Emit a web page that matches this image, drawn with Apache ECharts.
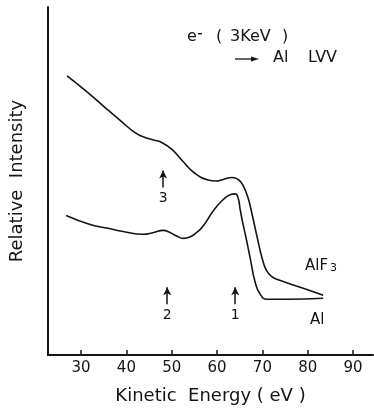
<!DOCTYPE html>
<html>
<head>
<meta charset="utf-8">
<script src="https://cdn.jsdelivr.net/npm/echarts@6/dist/echarts.min.js"></script>
<style>
  html, body { margin: 0; padding: 0; background: #ffffff; }
  #chart { width: 374px; height: 410px; }
</style>
</head>
<body>
<div id="chart"></div>
<script>
// Al LVV Auger spectra excited by 3 keV electrons (relative intensity vs kinetic energy)
const energyAlF3 = [26.9, 31.5, 35.3, 39.0, 41.9, 44.1, 46.0, 47.9, 50.1, 52.5, 55.0, 58.0, 59.8, 61.5, 63.3, 64.7, 65.7, 66.8, 67.8, 68.9, 70.0, 70.9, 72.0, 73.5, 79.0, 83.4];
const intensityAlF3 = [80.2, 75.4, 71.1, 67.0, 63.9, 62.5, 61.8, 61.0, 59.0, 55.6, 52.3, 50.3, 50.0, 50.5, 51.0, 50.4, 48.8, 45.3, 40.0, 33.5, 27.5, 24.3, 22.6, 21.6, 19.2, 17.2];

const energyAl = [26.7, 32.0, 36.0, 39.3, 43.7, 46.0, 48.1, 49.6, 51.2, 52.5, 54.0, 55.3, 56.9, 59.1, 61.3, 63.0, 64.0, 64.6, 65.1, 65.6, 66.5, 67.3, 68.4, 69.5, 71.0, 75.4, 83.4];
const intensityAl = [40.1, 37.5, 36.4, 35.5, 34.7, 35.2, 35.8, 35.2, 34.1, 33.5, 33.9, 35.0, 37.0, 41.3, 44.6, 46.1, 46.3, 45.3, 41.8, 38.4, 33.0, 27.9, 20.9, 17.5, 16.0, 16.0, 16.3];

// x-axis ticks and labels (eV)
const energyTicks = [30, 40, 50, 60, 70, 80, 90];

// Peak markers: label, energy, arrow tail / head intensity
const markerLabels = ['3', '2', '1'];
const markerEnergy = [48.1, 49.0, 64.0];
const markerTail = [48.1, 14.6, 14.6];
const markerHead = [53.0, 19.5, 19.5];

const FONT = 'DejaVu Sans';
const INK = '#141414';

const pairs = (xs, ys) => xs.map((x, i) => [x, ys[i]]);

const markerLines = markerLabels.map((lab, i) => [
  { name: lab, coord: [markerEnergy[i], markerTail[i]], symbol: 'none' },
  { coord: [markerEnergy[i], markerHead[i]], symbol: 'arrow', symbolSize: [6, 8] }
]);

const chart = echarts.init(document.getElementById('chart'), null, { renderer: 'canvas' });

chart.setOption({
  backgroundColor: '#ffffff',
  animation: false,
  grid: { left: 48, right: 1, top: 7, bottom: 54, containLabel: false },
  xAxis: {
    type: 'value',
    min: 22.7,
    max: 94.4,
    name: 'Kinetic  Energy ( eV )',
    nameLocation: 'middle',
    nameGap: 32,
    nameTextStyle: { fontFamily: FONT, fontSize: 18, color: INK },
    axisLine: { show: true, lineStyle: { color: INK, width: 2 } },
    axisTick: { show: true, inside: true, length: 5, customValues: energyTicks, lineStyle: { color: INK, width: 1.5 } },
    axisLabel: { show: true, customValues: energyTicks, margin: 6, fontFamily: FONT, fontSize: 15, color: INK },
    splitLine: { show: false }
  },
  yAxis: {
    type: 'value',
    min: 0,
    max: 100,
    name: 'Relative  Intensity',
    nameLocation: 'middle',
    nameGap: 22,
    nameRotate: 90,
    nameTextStyle: { fontFamily: FONT, fontSize: 18, color: INK },
    axisLine: { show: true, lineStyle: { color: INK, width: 2 } },
    axisTick: { show: false },
    axisLabel: { show: false },
    splitLine: { show: false }
  },
  series: [
    {
      name: 'AlF3',
      type: 'line',
      data: pairs(energyAlF3, intensityAlF3),
      smooth: 0.5,
      showSymbol: false,
      lineStyle: { color: INK, width: 1.6 }
    },
    {
      name: 'Al',
      type: 'line',
      data: pairs(energyAl, intensityAl),
      smooth: 0.5,
      showSymbol: false,
      lineStyle: { color: INK, width: 1.6 },
      markLine: {
        silent: true,
        symbol: ['none', 'arrow'],
        lineStyle: { color: INK, width: 1.5, type: 'solid' },
        label: {
          show: true,
          position: 'start',
          distance: 4,
          formatter: '{b}',
          fontFamily: FONT,
          fontSize: 14,
          color: INK
        },
        emphasis: { disabled: true },
        data: markerLines
      }
    }
  ],
  graphic: [
    { type: 'text', left: 187, top: 29, style: { text: 'e', fontFamily: FONT, fontSize: 16, fill: INK } },
    { type: 'rect', shape: { x: 198, y: 33, width: 4, height: 1.4 }, style: { fill: INK } },
    { type: 'text', left: 216, top: 29, style: { text: '(', fontFamily: FONT, fontSize: 16, fill: INK } },
    { type: 'text', left: 230, top: 29, style: { text: '3KeV', fontFamily: FONT, fontSize: 16, fill: INK } },
    { type: 'text', left: 282, top: 29, style: { text: ')', fontFamily: FONT, fontSize: 16, fill: INK } },
    { type: 'line', shape: { x1: 235, y1: 59, x2: 254, y2: 59 }, style: { stroke: INK, lineWidth: 1.3 } },
    { type: 'polygon', shape: { points: [[251, 56.5], [259, 59], [251, 61.5]] }, style: { fill: INK } },
    { type: 'text', left: 273, top: 50, style: { text: 'Al', fontFamily: FONT, fontSize: 16, fill: INK } },
    { type: 'text', left: 308, top: 50, style: { text: 'LVV', fontFamily: FONT, fontSize: 16, fill: INK } },
    { type: 'text', left: 305, top: 259, style: { text: 'AlF', fontFamily: FONT, fontSize: 15, fill: INK } },
    { type: 'text', left: 330, top: 263, style: { text: '3', fontFamily: FONT, fontSize: 11, fill: INK } },
    { type: 'text', left: 310, top: 313, style: { text: 'Al', fontFamily: FONT, fontSize: 15, fill: INK } }
  ]
});
</script>
</body>
</html>
